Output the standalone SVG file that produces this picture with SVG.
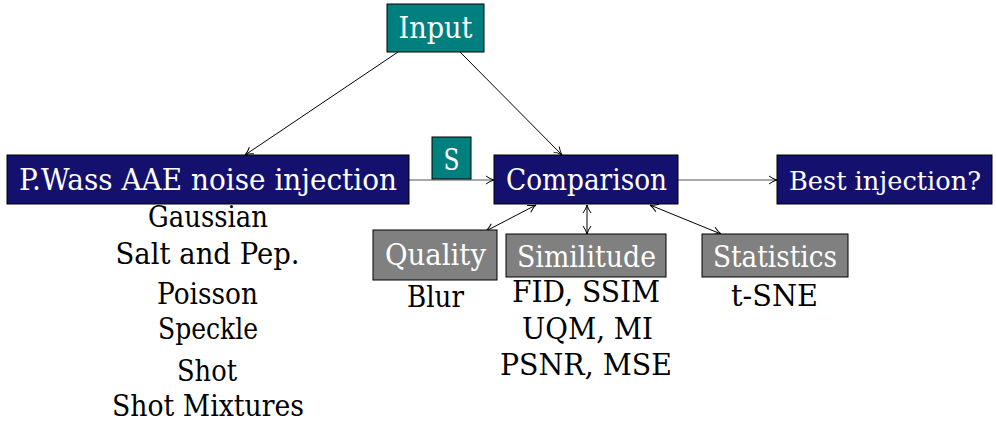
<svg xmlns="http://www.w3.org/2000/svg" width="996" height="425" viewBox="0 0 996 425">
<defs>
<marker id="ah" viewBox="0 0 10 10" refX="9" refY="5" markerWidth="10" markerHeight="10" markerUnits="userSpaceOnUse" orient="auto-start-reverse">
<path d="M1,1 Q5,4 9,5 Q5,6 1,9" fill="none" stroke="#000" stroke-width="1"/>
</marker>
<style>
text{font-size:29px;text-anchor:middle}
.w{fill:#fff}
.b{fill:#000}
.navy{fill:#14116E;stroke:#000;stroke-width:1}
.teal{fill:#007F7F;stroke:#000;stroke-width:1}
.gray{fill:#808080;stroke:#000;stroke-width:1}
.c{fill:none;stroke:#000;stroke-width:1}
.g{fill:none;stroke:#555;stroke-width:1.2}
</style>
</defs>
<rect width="996" height="425" fill="#fff"/>
<g id="connectors">
<line class="c" x1="398" y1="52" x2="245" y2="155" marker-end="url(#ah)"/>
<line class="c" x1="460" y1="52" x2="562" y2="155" marker-end="url(#ah)"/>
<line class="g" x1="409" y1="180" x2="494" y2="180" marker-end="url(#ah)"/>
<line class="g" x1="678" y1="180" x2="777" y2="180" marker-end="url(#ah)"/>
<line class="c" x1="536" y1="205" x2="486" y2="231" marker-start="url(#ah)" marker-end="url(#ah)"/>
<line class="c" x1="587" y1="205" x2="587" y2="234" marker-start="url(#ah)" marker-end="url(#ah)"/>
<line class="c" x1="650" y1="205" x2="721" y2="234" marker-start="url(#ah)" marker-end="url(#ah)"/>
</g>
<g font-family="'DejaVu Serif', 'Liberation Serif', serif">
<g id="input"><rect class="teal" x="387" y="4" width="97" height="48"/><text class="w" x="435.5" y="38" textLength="74" lengthAdjust="spacingAndGlyphs">Input</text></g>
<g id="pwass"><rect class="navy" x="7" y="155" width="402" height="49"/><text class="w" x="208" y="190" textLength="378" lengthAdjust="spacingAndGlyphs">P.Wass AAE noise injection</text></g>
<g id="s"><rect class="teal" x="432" y="137" width="39" height="42"/><text class="w" x="451.5" y="170" textLength="16" lengthAdjust="spacingAndGlyphs">S</text></g>
<g id="comparison"><rect class="navy" x="494" y="155" width="184" height="49"/><text class="w" x="586.5" y="190" textLength="161" lengthAdjust="spacingAndGlyphs">Comparison</text></g>
<g id="best"><rect class="navy" x="777" y="155" width="215" height="49"/><text class="w" x="885" y="190" style="font-size:26px" textLength="192" lengthAdjust="spacingAndGlyphs">Best injection?</text></g>
<g id="quality"><rect class="gray" x="373" y="230" width="124" height="50"/><text class="w" x="435.5" y="265" textLength="101" lengthAdjust="spacingAndGlyphs">Quality</text></g>
<g id="similitude"><rect class="gray" x="506" y="234" width="160" height="43"/><text class="w" x="586.5" y="267" textLength="139" lengthAdjust="spacingAndGlyphs">Similitude</text></g>
<g id="statistics"><rect class="gray" x="702" y="234" width="146" height="43"/><text class="w" x="775" y="267" textLength="124" lengthAdjust="spacingAndGlyphs">Statistics</text></g>
<g id="noise-list">
<text class="b" x="208" y="227" textLength="120" lengthAdjust="spacingAndGlyphs">Gaussian</text>
<text class="b" x="207.5" y="264" textLength="184" lengthAdjust="spacingAndGlyphs">Salt and Pep.</text>
<text class="b" x="207.5" y="304" textLength="101" lengthAdjust="spacingAndGlyphs">Poisson</text>
<text class="b" x="208" y="339" textLength="100" lengthAdjust="spacingAndGlyphs">Speckle</text>
<text class="b" x="207" y="381" textLength="60" lengthAdjust="spacingAndGlyphs">Shot</text>
<text class="b" x="208" y="416" textLength="192" lengthAdjust="spacingAndGlyphs">Shot Mixtures</text>
</g>
<g id="quality-list"><text class="b" x="435.5" y="307" textLength="57" lengthAdjust="spacingAndGlyphs">Blur</text></g>
<g id="similitude-list">
<text class="b" x="586" y="302" textLength="148" lengthAdjust="spacingAndGlyphs">FID, SSIM</text>
<text class="b" x="587.5" y="339" textLength="131" lengthAdjust="spacingAndGlyphs">UQM, MI</text>
<text class="b" x="586" y="375" textLength="172" lengthAdjust="spacingAndGlyphs">PSNR, MSE</text>
</g>
<g id="statistics-list"><text class="b" x="774.5" y="306" textLength="87" lengthAdjust="spacingAndGlyphs">t-SNE</text></g>
</g>
</svg>
